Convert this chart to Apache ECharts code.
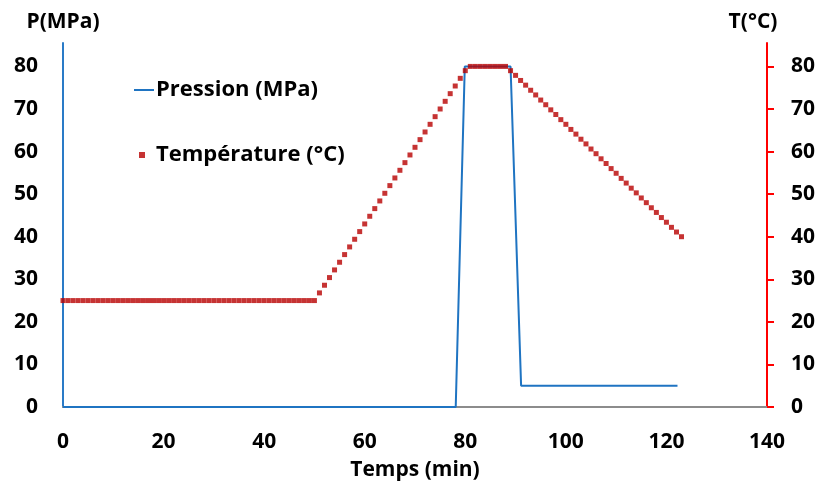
<!DOCTYPE html>
<html lang="fr" style="height: 100%">
<head>
  <meta charset="utf-8">
  <title>Pression et température</title>
</head>
<body style="height: 100%; margin: 0; background: #fff">
  <div id="container" style="width: 820px; height: 487px"></div>

  <script type="text/javascript" src="https://cdn.jsdelivr.net/npm/echarts@6.0.0/dist/echarts.min.js"></script>

  <script type="text/javascript">
    // pression (MPa) : temps (min) / valeur
    var pressTime = [0, 78.1, 79.9, 89, 91.1, 122.2];
    var pressValue = [0, 0, 80, 80, 5, 5];

    // température (°C), un point par minute
    var tempTime = [
      0, 1, 2, 3, 4, 5, 6, 7, 8, 9, 10, 11, 12, 13, 14, 15, 16, 17, 18, 19,
      20, 21, 22, 23, 24, 25, 26, 27, 28, 29, 30, 31, 32, 33, 34, 35, 36, 37, 38, 39,
      40, 41, 42, 43, 44, 45, 46, 47, 48, 49, 50, 51, 52, 53, 54, 55, 56, 57, 58, 59,
      60, 61, 62, 63, 64, 65, 66, 67, 68, 69, 70, 71, 72, 73, 74, 75, 76, 77, 78, 79,
      80, 81, 82, 83, 84, 85, 86, 87, 88, 89, 90, 91, 92, 93, 94, 95, 96, 97, 98, 99,
      100, 101, 102, 103, 104, 105, 106, 107, 108, 109, 110, 111, 112, 113, 114, 115, 116, 117, 118, 119,
      120, 121, 122, 123
    ];
    var tempValue = [
      25, 25, 25, 25, 25, 25, 25, 25, 25, 25, 25, 25, 25, 25, 25, 25, 25, 25, 25, 25,
      25, 25, 25, 25, 25, 25, 25, 25, 25, 25, 25, 25, 25, 25, 25, 25, 25, 25, 25, 25,
      25, 25, 25, 25, 25, 25, 25, 25, 25, 25, 25, 26.8, 28.6, 30.4, 32.2, 34, 35.8, 37.6, 39.4, 41.2,
      43, 44.8, 46.6, 48.4, 50.2, 52, 53.8, 55.6, 57.4, 59.2, 61, 62.8, 64.6, 66.4, 68.2, 70, 71.8, 73.6, 75.4, 77.2,
      79, 80, 80, 80, 80, 80, 80, 80, 80, 79, 77.9, 76.7, 75.6, 74.4, 73.3, 72.1, 71, 69.8, 68.7, 67.5,
      66.4, 65.2, 64.1, 62.9, 61.8, 60.6, 59.5, 58.3, 57.2, 56, 54.9, 53.7, 52.6, 51.4, 50.3, 49.1, 48, 46.8, 45.7, 44.5,
      43.4, 42.2, 41.1, 40
    ];

    var yTicks = [0, 10, 20, 30, 40, 50, 60, 70, 80];
    var xTicks = [0, 20, 40, 60, 80, 100, 120, 140];

    var font = 'Open Sans';
    var boldText = { fontFamily: font, fontWeight: 'bold', fontSize: 21, color: '#000' };
    var legendText = { fontFamily: font, fontWeight: 'bold', fontSize: 22, color: '#000' };

    var myChart = echarts.init(document.getElementById('container'), null, { renderer: 'canvas' });

    var option = {
      backgroundColor: '#fff',
      animation: false,
      grid: { left: 63, right: 53, top: 43, bottom: 80, outerBoundsMode: 'none' },
      legend: [
        {
          data: [{ name: 'Pression (MPa)', icon: 'rect' }],
          left: 129, top: 74,
          itemWidth: 20, itemHeight: 2,
          textStyle: Object.assign({}, legendText, { padding: [0, 0, 0, -3] })
        },
        {
          data: [{ name: 'Température (°C)', icon: 'rect' }],
          left: 134, top: 139,
          itemWidth: 6, itemHeight: 6,
          textStyle: Object.assign({}, legendText, { padding: [0, 0, 0, 6] })
        }
      ],
      xAxis: {
        type: 'value',
        min: 0, max: 140, interval: 20,
        name: 'Temps (min)',
        nameLocation: 'middle',
        nameGap: 53,
        nameTextStyle: boldText,
        axisLine: { lineStyle: { color: '#8c8c8c', width: 2 } },
        axisTick: { show: false },
        splitLine: { show: false },
        axisLabel: Object.assign({ margin: 25, customValues: xTicks }, boldText)
      },
      yAxis: [
        {
          type: 'value',
          min: 0, max: 85.5,
          name: 'P(MPa)',
          nameLocation: 'end',
          nameGap: 10,
          nameTextStyle: boldText,
          axisLine: { show: true, lineStyle: { color: '#2a7bc7', width: 2 } },
          axisTick: { show: false },
          splitLine: { show: false },
          axisLabel: Object.assign({ margin: 25, customValues: yTicks }, boldText)
        },
        {
          type: 'value',
          min: 0, max: 85.5,
          position: 'right',
          name: 'T(°C)',
          nameLocation: 'end',
          nameGap: 10,
          nameTextStyle: Object.assign({}, boldText, { padding: [0, 28, 0, 0] }),
          axisLine: { show: true, lineStyle: { color: '#ff0000', width: 2 } },
          axisTick: { show: true, length: 7, lineStyle: { color: '#ff0000', width: 2 }, customValues: yTicks },
          splitLine: { show: false },
          axisLabel: Object.assign({ margin: 24, customValues: yTicks }, boldText)
        }
      ],
      series: [
        {
          name: 'Pression (MPa)',
          type: 'line',
          yAxisIndex: 0,
          symbol: 'none',
          color: '#1f74c2',
          lineStyle: { width: 2, color: '#1f74c2' },
          data: pressTime.map(function (t, i) { return [t, pressValue[i]]; }),
          z: 3
        },
        {
          name: 'Température (°C)',
          type: 'scatter',
          yAxisIndex: 1,
          symbol: 'rect',
          symbolSize: 5,
          color: '#b80000',
          itemStyle: { color: '#b80000' },
          data: tempTime.map(function (t, i) { return [t, tempValue[i]]; }),
          z: 4
        }
      ]
    };

    myChart.setOption(option);
  </script>
</body>
</html>
